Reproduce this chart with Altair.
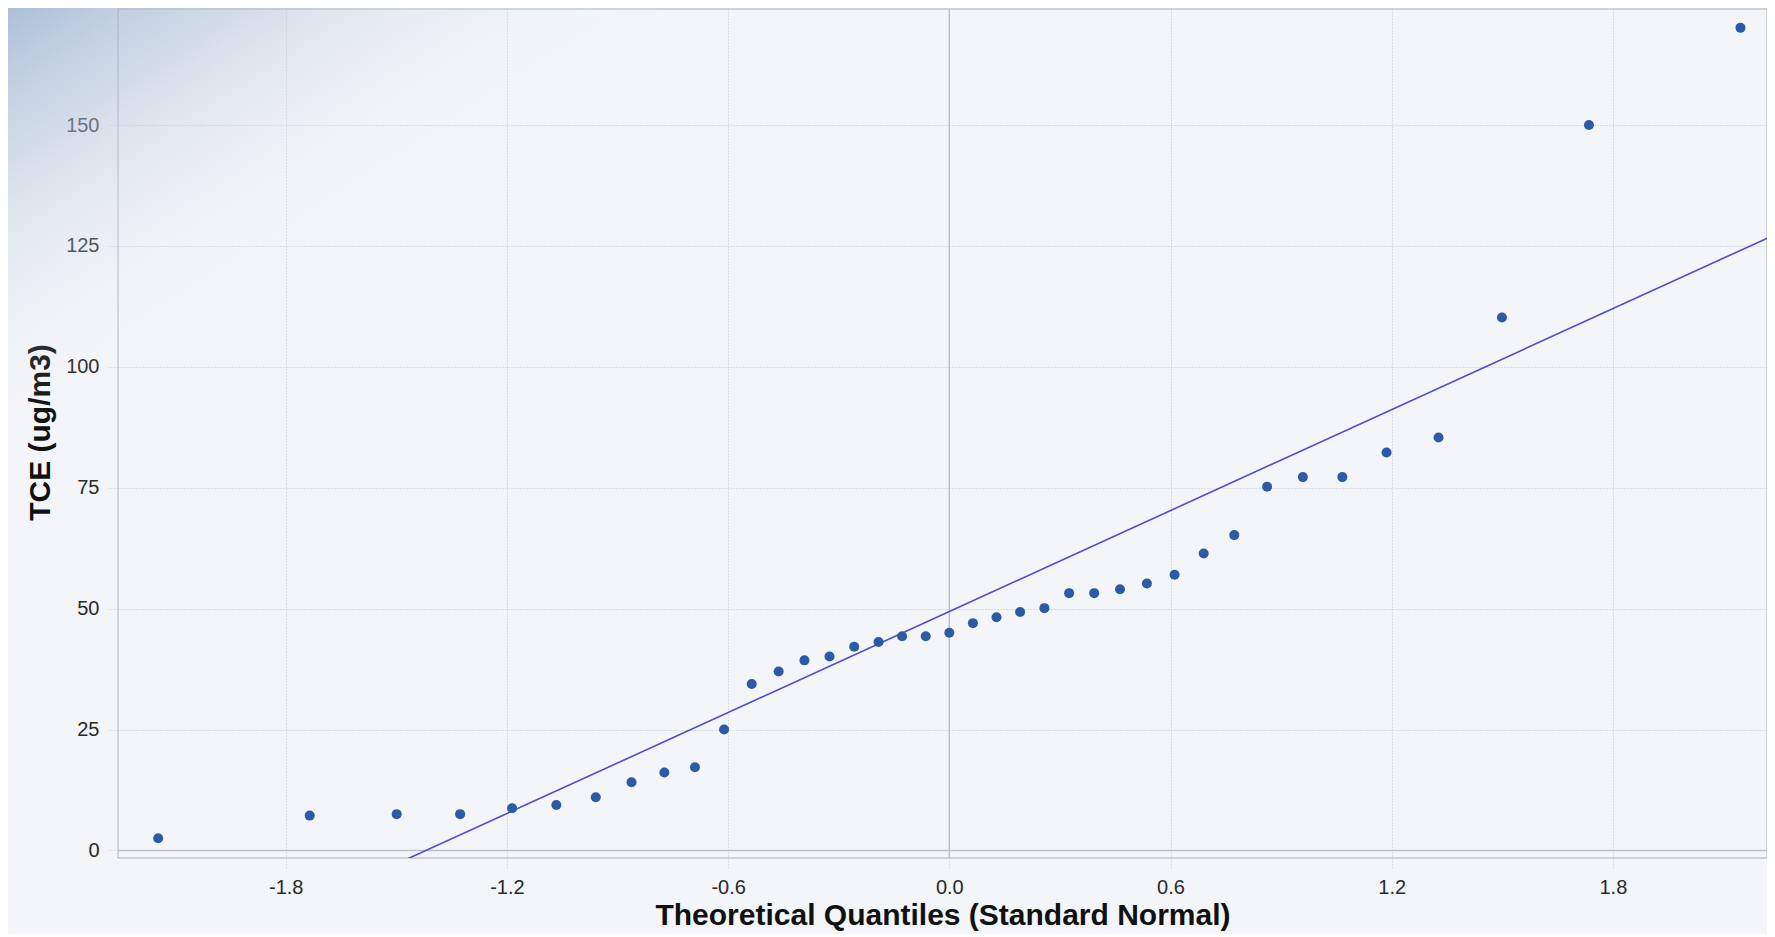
import altair as alt
import pandas as pd

# ---- data ----
theoretical_q = [-2.146, -1.735, -1.499, -1.327, -1.186, -1.066, -0.959, -0.862, -0.773, -0.690,
                 -0.611, -0.536, -0.463, -0.393, -0.325, -0.258, -0.192, -0.128, -0.064, 0.0,
                 0.064, 0.128, 0.192, 0.258, 0.325, 0.393, 0.463, 0.536, 0.611, 0.690,
                 0.773, 0.862, 0.959, 1.066, 1.186, 1.327, 1.499, 1.735, 2.146]
tce = [2.5, 7.2, 7.5, 7.5, 8.7, 9.4, 11.0, 14.1, 16.1, 17.2,
       25.0, 34.4, 37.0, 39.3, 40.1, 42.1, 43.1, 44.3, 44.3, 45.0,
       47.0, 48.2, 49.3, 50.1, 53.2, 53.2, 54.0, 55.2, 57.0, 61.4,
       65.2, 75.2, 77.2, 77.2, 82.3, 85.4, 110.2, 150.0, 170.1]
fit_x = [-1.50, 2.25]
fit_y = [-2.8, 127.7]
x_ticks = [-1.8, -1.2, -0.6, 0.0, 0.6, 1.2, 1.8]
y_ticks = [0, 25, 50, 75, 100, 125, 150]

pts = pd.DataFrame({"q": theoretical_q, "tce": tce})
fit = pd.DataFrame({"q": fit_x, "tce": fit_y})
one = pd.DataFrame({"q": [0.0], "tce": [0.0]})

FONT = "Liberation Sans"
xscale = alt.Scale(domain=[-2.255, 2.218], nice=False, zero=False)
yscale = alt.Scale(domain=[-1.57, 174.0], nice=False, zero=False)

x_axis = alt.Axis(
    values=x_ticks,
    labelExpr="datum.value < 0 ? '-' + format(-datum.value, '.1f') : format(datum.value, '.1f')",
    title="Theoretical Quantiles (Standard Normal)",
    titleFont=FONT, titleFontSize=30, titleFontWeight="bold", titleColor="#111111",
    titleBaseline="middle", titleY=57,
    labelFont=FONT, labelFontSize=20, labelColor="#2a2a2a", labelPadding=7,
    labelFlush=False, labelOverlap=False,
    tickSize=12, tickColor="#c5c9ce", tickDash=[1, 2], tickWidth=1,
    grid=True, gridColor="#c0c4ca", gridDash=[1, 2], gridWidth=1,
    domain=False,
)
y_axis = alt.Axis(
    values=y_ticks,
    title="TCE (ug/m3)",
    titleFont=FONT, titleFontSize=30, titleFontWeight="bold", titleColor="#111111",
    titleAngle=270, titleAlign="center", titleBaseline="middle", titleX=-78, titleY=423,
    labelFont=FONT, labelFontSize=20, labelColor="#2a2a2a", labelPadding=8,
    labelFlush=False, labelOverlap=False,
    tickSize=11, tickColor="#c5c9ce", tickDash=[1, 2], tickWidth=1,
    grid=True, gridColor="#c0c4ca", gridDash=[1, 2], gridWidth=1,
    domain=False,
)

X = alt.X("q:Q", scale=xscale, axis=x_axis)
Y = alt.Y("tce:Q", scale=yscale, axis=y_axis)

bg = alt.Chart(one).mark_rect(
    clip=False,
    color=alt.Gradient(
        gradient="linear", x1=0, y1=0, x2=1, y2=1,
        stops=[alt.GradientStop(color="rgba(155,178,205,0.80)", offset=0),
               alt.GradientStop(color="rgba(180,198,220,0.45)", offset=0.2),
               alt.GradientStop(color="rgba(243,245,248,0)", offset=0.5)],
    ),
).encode(x=alt.value(-110), x2=alt.value(560), y=alt.value(-1), y2=alt.value(430))

zero_v = alt.Chart(one).mark_rule(color="#bcc0c5", strokeWidth=1.5).encode(x=X)
zero_h = alt.Chart(one).mark_rule(color="#bcc0c5", strokeWidth=1.5).encode(y=Y)

line = alt.Chart(fit).mark_line(color="#4f4bd6", strokeWidth=1.6, clip=True).encode(x=X, y=Y)

points = alt.Chart(pts).mark_circle(size=100, color="#2b5ba6", opacity=1).encode(x=X, y=Y)

chart = alt.layer(zero_v, zero_h, line, points, bg).properties(
    width=1649,
    height=849,
    padding={"left": 110, "top": 1, "right": 0, "bottom": 76},
    autosize=alt.AutoSizeParams(type="none"),
    background="#f3f5f8",
).configure_view(
    stroke="#c3c7cc", strokeWidth=1.5,
)

chart.save("out.html", embed_options={"renderer": "svg", "actions": False})
